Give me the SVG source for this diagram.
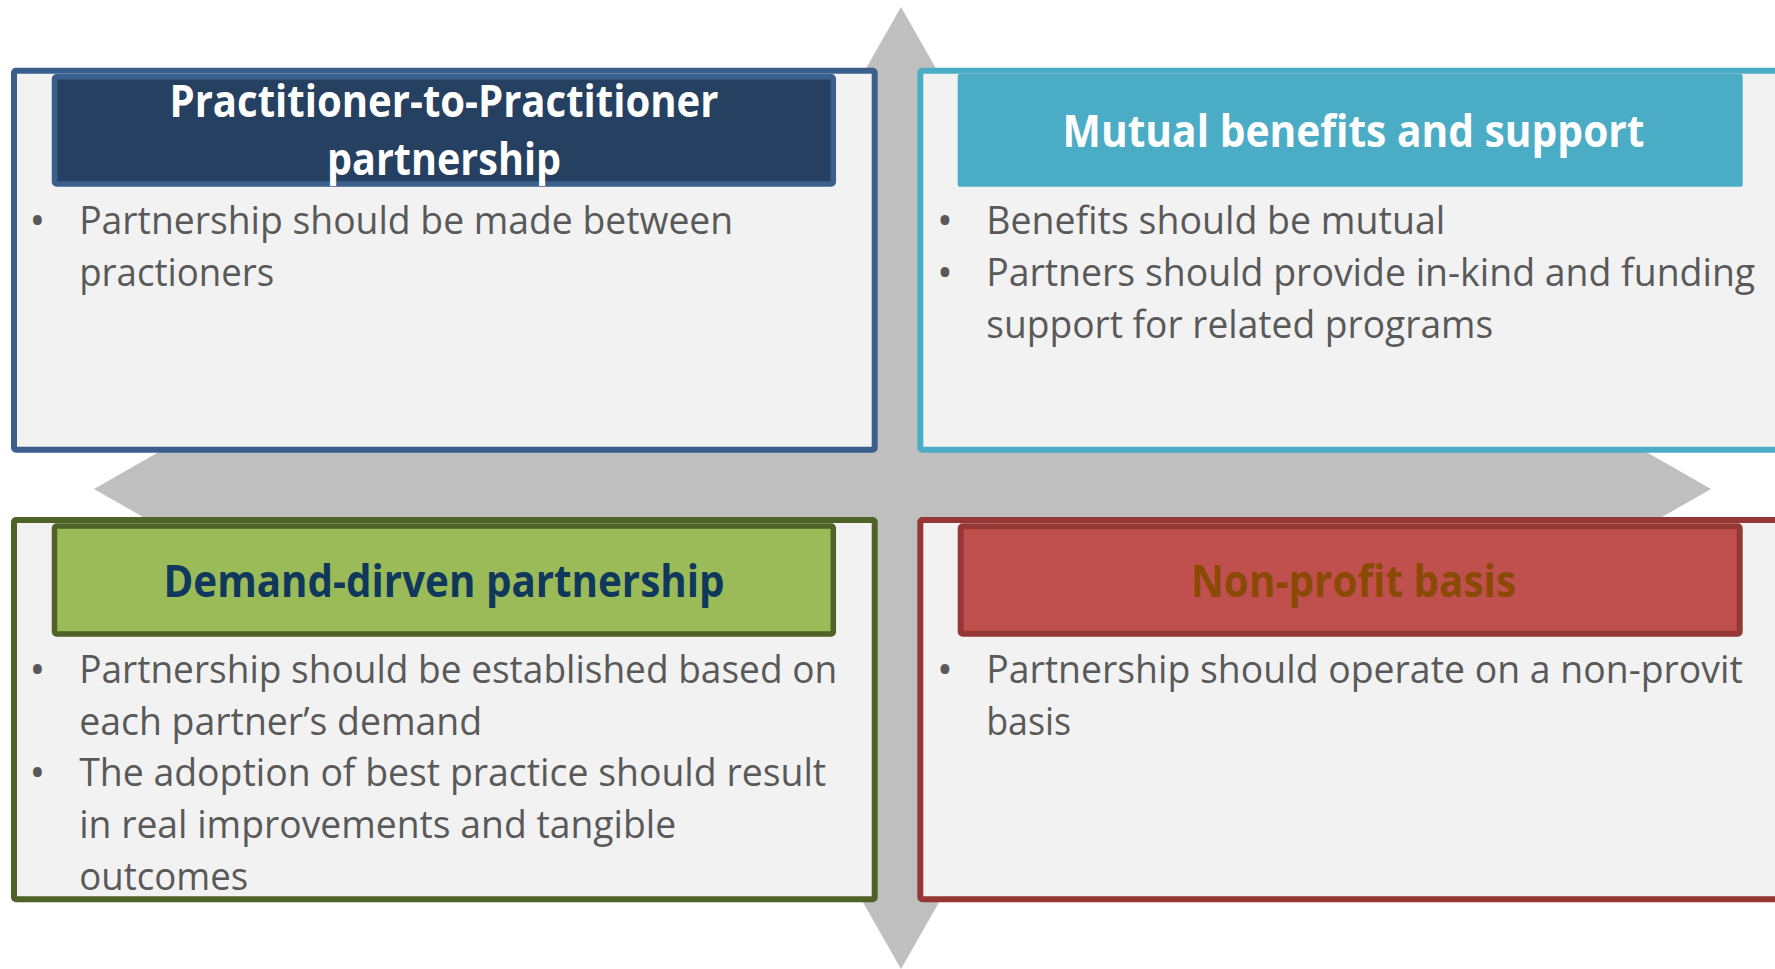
<svg xmlns="http://www.w3.org/2000/svg" width="1775" height="969" viewBox="0 0 1775 969">
<style>
.box{fill:#F2F2F2;stroke-width:6}
.ttl{font-family:"Open Sans","Noto Sans","Liberation Sans",sans-serif;font-weight:700;font-size:44px;text-anchor:middle}
.body{font-family:"Open Sans","Noto Sans","Liberation Sans",sans-serif;font-size:38.5px;fill:#595959}
.bul{font-family:"Open Sans","Noto Sans","Liberation Sans",sans-serif;font-size:42px;fill:#595959;text-anchor:middle}
.arrow{fill:#BFBFBF}
</style>
<rect width="1775" height="969" fill="#FFFFFF"/>
<g id="connectors">
<polygon class="arrow" points="901,7 958,107 932,107 932,869 958,869 901,969 844,869 870,869 870,107 844,107"/>
<polygon class="arrow" points="94,489 234,409 234,445 1571,445 1571,409 1711,489 1571,569 1571,530 234,530 234,569"/>
</g>
<g id="node-practitioner">
<rect class="box" x="14" y="70.7" width="860.7" height="379" rx="2" stroke="#3A5F8C"/>
<rect x="54.5" y="76.8" width="778.8" height="107.2" rx="2" fill="#254061" stroke="#3A5F8C" stroke-width="5.5"/>
<text class="ttl" fill="#FFFFFF" x="444" y="117.3" textLength="549" lengthAdjust="spacingAndGlyphs">Practitioner-to-Practitioner</text>
<text class="ttl" fill="#FFFFFF" x="444" y="175" textLength="234" lengthAdjust="spacingAndGlyphs">partnership</text>
<text class="bul" x="37.5" y="235">•</text>
<text class="body" x="79.2" y="234" textLength="654" lengthAdjust="spacingAndGlyphs">Partnership should be made between</text>
<text class="body" x="79.2" y="285.5" textLength="195" lengthAdjust="spacingAndGlyphs">practioners</text>
</g>
<g id="node-mutual">
<rect class="box" x="920.3" y="70.7" width="866" height="379" rx="2" stroke="#4BACC6"/>
<rect x="957.7" y="74" width="785" height="112.7" rx="2" fill="#4BACC6"/>
<text class="ttl" fill="#FFFFFF" x="1353.5" y="146.7" textLength="582" lengthAdjust="spacingAndGlyphs">Mutual benefits and support</text>
<text class="bul" x="945" y="235">•</text>
<text class="body" x="986.2" y="234" textLength="459" lengthAdjust="spacingAndGlyphs">Benefits should be mutual</text>
<text class="bul" x="945" y="287">•</text>
<text class="body" x="986.2" y="286" textLength="769" lengthAdjust="spacingAndGlyphs">Partners should provide in-kind and funding</text>
<text class="body" x="986.2" y="337.5" textLength="507" lengthAdjust="spacingAndGlyphs">support for related programs</text>
</g>
<g id="node-demand">
<rect class="box" x="14" y="520" width="860.7" height="379.2" rx="2" stroke="#4F6228"/>
<rect x="54.5" y="526" width="778.8" height="108" rx="2" fill="#9BBB59" stroke="#4F6228" stroke-width="5.5"/>
<text class="ttl" fill="#10375C" x="444" y="596.7" textLength="561" lengthAdjust="spacingAndGlyphs">Demand-dirven partnership</text>
<text class="bul" x="37.5" y="684.3">•</text>
<text class="body" x="79.2" y="683.3" textLength="758" lengthAdjust="spacingAndGlyphs">Partnership should be established based on</text>
<text class="body" x="79.2" y="735" textLength="403" lengthAdjust="spacingAndGlyphs">each partner’s demand</text>
<text class="bul" x="37.5" y="787">•</text>
<text class="body" x="79.2" y="786" textLength="747" lengthAdjust="spacingAndGlyphs">The adoption of best practice should result</text>
<text class="body" x="79.2" y="838.3" textLength="597" lengthAdjust="spacingAndGlyphs">in real improvements and tangible</text>
<text class="body" x="79.2" y="890" textLength="169" lengthAdjust="spacingAndGlyphs">outcomes</text>
</g>
<g id="node-nonprofit">
<rect class="box" x="920.3" y="520" width="866" height="379.2" rx="2" stroke="#953735"/>
<rect x="960.7" y="526.3" width="779" height="107.4" rx="2" fill="#C0504D" stroke="#953735" stroke-width="6"/>
<text class="ttl" fill="#8A4A06" x="1353.5" y="596.7" textLength="325" lengthAdjust="spacingAndGlyphs">Non-profit basis</text>
<text class="bul" x="945" y="684.3">•</text>
<text class="body" x="986.2" y="683.3" textLength="756.6" lengthAdjust="spacingAndGlyphs">Partnership should operate on a non-provit</text>
<text class="body" x="986.2" y="735" textLength="85" lengthAdjust="spacingAndGlyphs">basis</text>
</g>
</svg>
